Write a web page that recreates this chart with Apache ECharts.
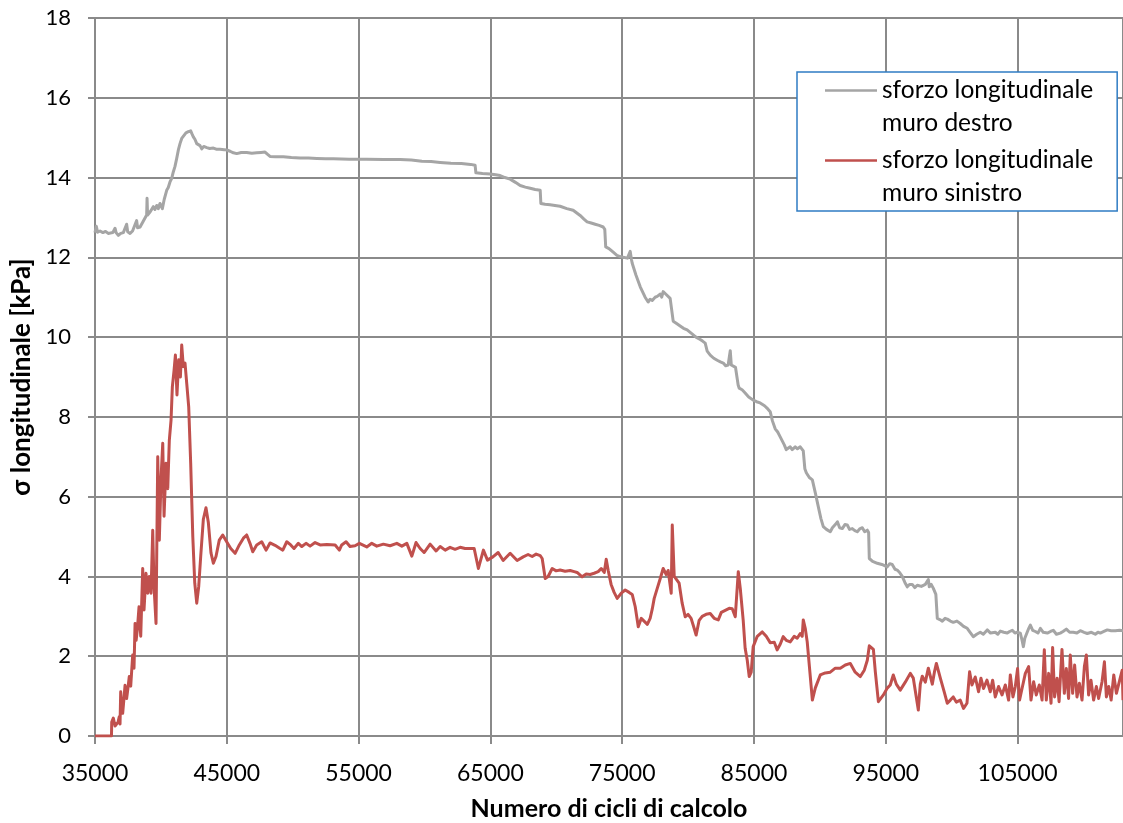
<!DOCTYPE html>
<html>
<head>
<meta charset="utf-8">
<title>Sforzo longitudinale</title>
<script src="https://cdn.jsdelivr.net/npm/echarts@6/dist/echarts.min.js"></script>
<style>
  html, body { margin: 0; padding: 0; background: #fff; }
  #chart { width: 1123px; height: 823px; }
</style>
</head>
<body>
<div id="chart"></div>
<script>
// Stress on the right wall (muro destro): cycle number and sigma [kPa]
const cyclesDestro = [
  35000, 35100, 35200, 35380, 35600, 35800, 36000, 36140, 36350, 36520,
  36600, 36770, 36950, 37150, 37300, 37400, 37480, 37660, 37850, 38000,
  38160, 38230, 38420, 38650, 38920, 38950, 38990, 39200, 39430, 39550,
  39680, 39800, 39930, 40110, 40250, 40440, 40560, 40690, 40820, 40940,
  41070, 41200, 41330, 41450, 41580, 41700, 41900, 42080, 42260, 42350,
  42460, 42580, 42720, 42850, 42970, 43100, 43250, 43480, 43700, 43980,
  44200, 44490, 44800, 45000, 45250, 45500, 45750, 46100, 46510, 46900,
  47270, 47600, 47900, 48100, 48280, 48700, 49290, 49900, 50560, 51200,
  51830, 52500, 53090, 54300, 55620, 56900, 58150, 59000, 59800, 60500,
  61190, 62000, 62800, 63500, 63840, 63900, 64400, 64980, 65400, 65740,
  66100, 66500, 66900, 67260, 67650, 68020, 68400, 68780, 68830, 69150,
  69530, 69900, 70290, 70800, 71280, 71810, 72100, 72340, 72650, 72950,
  73250, 73560, 73680, 73750, 74000, 74320, 74600, 74850, 75080, 75400,
  75610, 75700, 75760, 76050, 76370, 76740, 76970, 77120, 77280, 77500,
  77660, 77900, 78000, 78110, 78300, 78420, 78640, 78750, 78870, 79100,
  79400, 79650, 79930, 80300, 80600, 80920, 81100, 81300, 81450, 81680,
  81950, 82210, 82450, 82670, 82850, 83040, 83150, 83200, 83280, 83420,
  83600, 83730, 83800, 83880, 84100, 84330, 84600, 84940, 85200, 85470,
  85800, 86050, 86230, 86400, 86610, 86800, 86990, 87300, 87450, 87600,
  87750, 87900, 88130, 88300, 88510, 88740, 88860, 88970, 89200, 89430,
  89650, 89880, 90080, 90260, 90500, 90790, 90950, 91170, 91330, 91500,
  91700, 91900, 92080, 92250, 92460, 92650, 92840, 93050, 93220, 93400,
  93600, 93700, 93750, 94000, 94360, 94700, 95110, 95300, 95490, 95700,
  95870, 96050, 96250, 96450, 96630, 96800, 97010, 97200, 97390, 97700,
  98000, 98150, 98230, 98300, 98450, 98610, 98800, 98910, 99100, 99290,
  99500, 99670, 99900, 100120, 100400, 100650, 100900, 101180, 101400, 101640,
  101900, 102170, 102400, 102700, 102950, 103310, 103500, 103690, 103950, 104220,
  104400, 104600, 104800, 104980, 105210, 105340, 105440, 105550, 105670, 105850,
  105970, 106150, 106350, 106550, 106730, 106950, 107260, 107500, 107710, 107950,
  108240, 108450, 108700, 108950, 109230, 109500, 109760, 110050, 110290, 110600,
  110900, 111100, 111280, 111550, 111810, 112100, 112420, 112750, 113000
];
const sigmaDestro = [
  12.62, 12.78, 12.63, 12.66, 12.62, 12.65, 12.60, 12.64, 12.62, 12.73,
  12.62, 12.55, 12.60, 12.62, 12.66, 12.83, 12.64, 12.60, 12.66, 12.70,
  12.92, 12.74, 12.76, 12.90, 13.06, 13.48, 13.06, 13.15, 13.27, 13.20,
  13.30, 13.22, 13.35, 13.22, 13.45, 13.68, 13.75, 13.89, 13.98, 14.14,
  14.28, 14.48, 14.70, 14.85, 14.98, 15.02, 15.12, 15.15, 15.17, 15.10,
  15.02, 14.96, 14.85, 14.82, 14.80, 14.72, 14.78, 14.75, 14.73, 14.74,
  14.71, 14.71, 14.70, 14.69, 14.66, 14.62, 14.60, 14.63, 14.63, 14.61,
  14.62, 14.63, 14.64, 14.58, 14.53, 14.52, 14.52, 14.50, 14.49, 14.49,
  14.48, 14.47, 14.47, 14.46, 14.46, 14.45, 14.45, 14.44, 14.41, 14.40,
  14.38, 14.36, 14.35, 14.33, 14.31, 14.12, 14.10, 14.09, 14.07, 14.05,
  14.00, 13.96, 13.88, 13.80, 13.76, 13.73, 13.70, 13.68, 13.35, 13.33,
  13.32, 13.30, 13.28, 13.22, 13.18, 13.05, 12.96, 12.89, 12.86, 12.83,
  12.80, 12.76, 12.70, 12.26, 12.22, 12.13, 12.05, 12.02, 12.00, 11.98,
  12.15, 11.95, 11.85, 11.55, 11.26, 11.00, 10.88, 10.95, 10.92, 11.00,
  11.02, 11.08, 11.00, 11.14, 11.08, 11.05, 10.97, 10.95, 10.40, 10.35,
  10.28, 10.22, 10.18, 10.08, 10.00, 9.94, 9.90, 9.85, 9.65, 9.55,
  9.47, 9.42, 9.38, 9.35, 9.28, 9.30, 9.35, 9.66, 9.30, 9.26,
  9.24, 9.22, 8.80, 8.72, 8.68, 8.60, 8.50, 8.42, 8.38, 8.35,
  8.28, 8.20, 8.13, 7.90, 7.70, 7.62, 7.50, 7.30, 7.18, 7.13,
  7.25, 7.18, 7.25, 7.20, 7.25, 7.15, 6.70, 6.60, 6.48, 6.42,
  6.10, 5.75, 5.45, 5.25, 5.18, 5.12, 5.22, 5.30, 5.37, 5.22,
  5.20, 5.30, 5.29, 5.18, 5.20, 5.15, 5.12, 5.20, 5.22, 5.12,
  5.16, 5.10, 4.45, 4.38, 4.33, 4.30, 4.24, 4.32, 4.30, 4.18,
  4.16, 4.10, 4.00, 3.85, 3.74, 3.80, 3.80, 3.72, 3.78, 3.75,
  3.80, 3.75, 3.92, 3.74, 3.80, 3.70, 3.55, 2.95, 2.92, 2.88,
  2.95, 2.93, 2.88, 2.85, 2.88, 2.82, 2.75, 2.70, 2.60, 2.49,
  2.55, 2.60, 2.55, 2.66, 2.58, 2.60, 2.55, 2.63, 2.60, 2.58,
  2.62, 2.65, 2.58, 2.60, 2.58, 2.40, 2.24, 2.45, 2.55, 2.70,
  2.78, 2.65, 2.62, 2.58, 2.70, 2.60, 2.58, 2.62, 2.65, 2.55,
  2.58, 2.62, 2.68, 2.60, 2.60, 2.58, 2.64, 2.60, 2.57, 2.60,
  2.55, 2.60, 2.58, 2.62, 2.66, 2.64, 2.64, 2.65, 2.64
];

// Stress on the left wall (muro sinistro): cycle number and sigma [kPa]
const cyclesSinistro = [
  35000, 36250, 36270, 36390, 36520, 36640, 36750, 36840, 36900, 36950,
  37020, 37100, 37200, 37280, 37400, 37500, 37600, 37710, 37860, 37960,
  38040, 38120, 38210, 38340, 38470, 38620, 38720, 38870, 39000, 39120,
  39250, 39380, 39480, 39630, 39760, 39880, 40010, 40140, 40240, 40390,
  40520, 40640, 40770, 40870, 41000, 41100, 41220, 41350, 41480, 41580,
  41700, 41830, 41960, 42110, 42260, 42420, 42570, 42720, 42870, 43020,
  43220, 43420, 43600, 43800, 43980, 44180, 44430, 44690, 44990, 45300,
  45630, 45950, 46260, 46510, 46760, 46970, 47270, 47650, 47980, 48280,
  48660, 49040, 49250, 49550, 49850, 50100, 50430, 50690, 51010, 51320,
  51700, 52080, 52590, 53220, 53540, 53720, 54050, 54350, 54730, 55060,
  55620, 56000, 56380, 56880, 57390, 57900, 58280, 58660, 59040, 59360,
  59670, 59970, 60430, 60880, 61190, 61570, 61940, 62320, 62700, 63080,
  63770, 64090, 64470, 64780, 65190, 65590, 65970, 66500, 67030, 67490,
  67860, 68170, 68470, 68780, 68930, 69160, 69380, 69690, 69990, 70290,
  70670, 71050, 71360, 71580, 71960, 72270, 72570, 72870, 73180, 73410,
  73640, 73790, 73940, 74160, 74390, 74620, 74930, 75230, 75530, 75760,
  75990, 76220, 76450, 76600, 76910, 77120, 77280, 77430, 77660, 77890,
  78110, 78340, 78490, 78720, 78800, 78950, 79100, 79320, 79550, 79780,
  80000, 80230, 80460, 80610, 80840, 81070, 81370, 81680, 81980, 82290,
  82520, 82820, 83120, 83350, 83580, 83810, 83960, 84180, 84330, 84490,
  84640, 84790, 84940, 85250, 85630, 85930, 86230, 86540, 86760, 86990,
  87220, 87450, 87750, 88050, 88280, 88510, 88660, 88740, 88890, 89040,
  89270, 89430, 89650, 90030, 90410, 90790, 91170, 91550, 91930, 92080,
  92310, 92680, 93070, 93370, 93600, 93750, 94060, 94210, 94440, 94820,
  95110, 95340, 95570, 95800, 96100, 96480, 96860, 97090, 97240, 97470,
  97620, 97770, 98000, 98230, 98530, 98690, 98840, 99140, 99440, 99670,
  99900, 100120, 100350, 100650, 100900, 101160, 101360, 101540, 101790, 102040,
  102220, 102420, 102680, 102930, 103110, 103310, 103560, 103820, 104070, 104320,
  104450, 104650, 104830, 105000, 105150, 105340, 105590, 105840, 106020, 106220,
  106420, 106650, 106860, 107030, 107180, 107360, 107540, 107660, 107810, 108000,
  108150, 108370, 108550, 108700, 108870, 109000, 109180, 109330, 109510, 109690,
  109890, 110070, 110220, 110390, 110570, 110770, 110980, 111150, 111410, 111590,
  111740, 111920, 112100, 112300, 112500, 112750, 112940, 113000
];
const sigmaSinistro = [
  0.00, 0.00, 0.35, 0.45, 0.25, 0.20, 0.35, 0.48, 0.30, 1.11,
  0.70, 0.57, 0.95, 1.27, 0.94, 1.20, 1.49, 1.25, 2.03, 1.70,
  2.82, 2.40, 2.66, 3.24, 2.50, 4.20, 3.16, 4.08, 3.58, 4.00,
  3.58, 5.16, 3.75, 2.82, 7.00, 4.91, 6.46, 7.34, 5.51, 6.84,
  6.20, 7.42, 7.92, 8.76, 9.17, 9.55, 8.55, 9.43, 9.00, 9.80,
  9.26, 9.35, 8.84, 8.25, 6.84, 5.00, 3.83, 3.33, 3.75, 4.50,
  5.43, 5.72, 5.35, 4.59, 4.33, 4.50, 4.91, 5.04, 4.87, 4.70,
  4.58, 4.79, 4.96, 5.04, 4.83, 4.62, 4.79, 4.87, 4.66, 4.84,
  4.78, 4.70, 4.66, 4.87, 4.79, 4.70, 4.83, 4.75, 4.83, 4.76,
  4.85, 4.79, 4.80, 4.79, 4.66, 4.79, 4.87, 4.75, 4.77, 4.83,
  4.74, 4.83, 4.76, 4.81, 4.77, 4.83, 4.76, 4.83, 4.51, 4.85,
  4.70, 4.60, 4.81, 4.64, 4.75, 4.66, 4.73, 4.68, 4.73, 4.70,
  4.70, 4.20, 4.66, 4.41, 4.49, 4.60, 4.40, 4.58, 4.40, 4.49,
  4.55, 4.50, 4.56, 4.52, 4.45, 3.95, 4.00, 4.20, 4.14, 4.16,
  4.13, 4.15, 4.12, 4.10, 3.99, 4.06, 4.05, 4.08, 4.12, 4.20,
  4.10, 4.43, 4.15, 3.80, 3.60, 3.45, 3.58, 3.66, 3.60, 3.55,
  3.24, 2.74, 2.95, 2.99, 2.80, 2.95, 3.18, 3.45, 3.70, 3.95,
  4.20, 4.05, 4.15, 3.58, 5.29, 4.00, 4.05, 3.83, 3.33, 2.99,
  3.05, 2.95, 2.70, 2.53, 2.90, 3.00, 3.05, 3.07, 2.95, 2.91,
  3.10, 3.15, 3.20, 3.19, 2.99, 4.12, 3.70, 2.91, 2.20, 1.90,
  1.49, 1.60, 2.24, 2.50, 2.61, 2.50, 2.34, 2.35, 2.16, 2.30,
  2.49, 2.40, 2.36, 2.50, 2.45, 2.57, 2.50, 2.91, 2.70, 2.36,
  1.50, 0.90, 1.20, 1.53, 1.58, 1.60, 1.70, 1.70, 1.78, 1.83,
  1.82, 1.60, 1.49, 1.65, 1.90, 2.26, 2.17, 1.60, 0.86, 1.03,
  1.20, 1.28, 1.53, 1.30, 1.15, 1.35, 1.57, 1.45, 1.50, 0.65,
  1.30, 1.50, 1.35, 1.70, 1.30, 1.60, 1.82, 1.45, 1.10, 0.82,
  0.90, 0.98, 0.85, 0.90, 0.69, 0.82, 1.61, 1.28, 1.48, 1.11,
  1.45, 1.19, 1.40, 1.11, 1.40, 0.98, 1.24, 1.03, 1.28, 0.90,
  1.53, 0.98, 1.24, 1.69, 0.90, 1.19, 1.57, 1.74, 0.90, 1.36,
  1.03, 1.28, 0.90, 2.16, 0.90, 1.57, 0.82, 2.22, 0.98, 1.45,
  0.86, 2.17, 1.07, 1.69, 0.94, 2.03, 1.07, 1.78, 0.98, 1.32,
  0.90, 1.74, 2.03, 1.03, 1.40, 0.90, 1.24, 0.94, 1.36, 1.86,
  0.98, 1.24, 0.90, 1.53, 1.07, 1.40, 1.65, 0.90
];

// Axis settings
const xAxisMin = 35000;
const xAxisMax = 113000;
const xAxisStep = 10000;
const yAxisMin = 0;
const yAxisMax = 18;
const yAxisStep = 2;

const seriesNames = [
  'sforzo longitudinale muro destro',
  'sforzo longitudinale muro sinistro'
];
const xAxisTitle = 'Numero di cicli di calcolo';
const yAxisTitle = 'σ longitudinale [kPa]';

const pairs = (xs, ys) => xs.map((x, i) => [x, ys[i]]);

const FONT = 'Lato, "Open Sans", sans-serif';
const GRID_COLOR = '#8a8a8a';

// Legend icon: a short line sitting at the height of the first text row
const legendLineIcon = 'path://M0,0L0.01,0M0,15.2L52,15.2L52,17.8L0,17.8ZM0,66L0.01,66';

const chart = echarts.init(document.getElementById('chart'), null, { renderer: 'canvas' });

chart.setOption({
  animation: false,
  backgroundColor: '#ffffff',
  textStyle: { fontFamily: FONT },
  grid: {
    left: 95, right: 0, top: 18, bottom: 87,
    containLabel: false,
    outerBoundsMode: 'none'
  },
  legend: {
    orient: 'vertical',
    left: 797,
    top: 72,
    padding: [2, 24, 1, 28],
    itemWidth: 52,
    itemHeight: 66,
    itemGap: 4,
    icon: legendLineIcon,
    itemStyle: { borderWidth: 0 },
    backgroundColor: '#ffffff',
    borderColor: '#2f7cc3',
    borderWidth: 1.5,
    borderRadius: 0,
    textStyle: { fontFamily: FONT, fontSize: 24.5, lineHeight: 33, color: '#000' },
    formatter: name => name.replace(' muro', '\nmuro'),
    data: seriesNames
  },
  xAxis: {
    type: 'value',
    min: xAxisMin,
    max: xAxisMax,
    interval: xAxisStep,
    name: xAxisTitle,
    nameLocation: 'middle',
    nameGap: 60,
    nameTextStyle: { fontFamily: FONT, fontSize: 25, fontWeight: 'bold', color: '#000' },
    axisLine: { show: true, onZero: false, lineStyle: { color: GRID_COLOR, width: 2 } },
    axisTick: { show: true, inside: false, length: 8, lineStyle: { color: GRID_COLOR, width: 2 } },
    axisLabel: {
      margin: 26,
      fontFamily: FONT, fontSize: 23, color: '#000',
      showMaxLabel: false,
      formatter: v => String(v)
    },
    splitLine: { show: true, lineStyle: { color: GRID_COLOR, width: 2 } }
  },
  yAxis: {
    type: 'value',
    min: yAxisMin,
    max: yAxisMax,
    interval: yAxisStep,
    name: yAxisTitle,
    nameLocation: 'middle',
    nameGap: 60,
    nameTextStyle: { fontFamily: FONT, fontSize: 26, fontWeight: 'bold', color: '#000' },
    axisLine: { show: true, lineStyle: { color: GRID_COLOR, width: 2 } },
    axisTick: { show: true, inside: false, length: 7, lineStyle: { color: GRID_COLOR, width: 2 } },
    axisLabel: { margin: 24, fontFamily: FONT, fontSize: 22, color: '#000' },
    splitLine: { show: true, lineStyle: { color: GRID_COLOR, width: 2 } }
  },
  series: [
    {
      name: seriesNames[0],
      type: 'line',
      data: pairs(cyclesDestro, sigmaDestro),
      showSymbol: false,
      symbol: 'none',
      color: '#a5a5a5',
      lineStyle: { color: '#a5a5a5', width: 3, join: 'round' },
      z: 3
    },
    {
      name: seriesNames[1],
      type: 'line',
      data: pairs(cyclesSinistro, sigmaSinistro),
      showSymbol: false,
      symbol: 'none',
      color: '#c0504d',
      lineStyle: { color: '#c0504d', width: 3, join: 'round' },
      z: 4
    }
  ]
});
</script>
</body>
</html>
